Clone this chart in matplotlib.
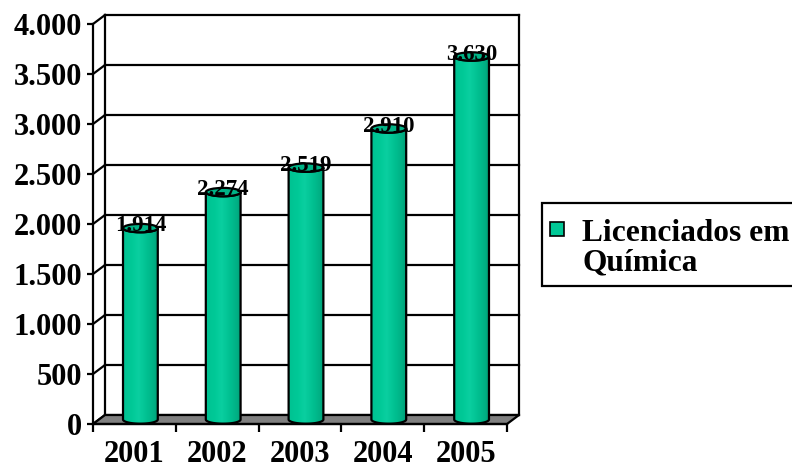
import numpy as np
import matplotlib
matplotlib.use("Agg")
import matplotlib.pyplot as plt
from matplotlib.patches import Polygon, Ellipse, PathPatch, Rectangle
from matplotlib.path import Path
from matplotlib.colors import LinearSegmentedColormap
from matplotlib.ticker import FuncFormatter, FixedLocator

# ---- data ----
years = ["2001", "2002", "2003", "2004", "2005"]
graduates = [1914, 2274, 2519, 2910, 3630]
series_name = "Licenciados em\nQuímica"
y_ticks = [0, 500, 1000, 1500, 2000, 2500, 3000, 3500, 4000]

# ---- style ----
FONT = "Liberation Serif"
plt.rcParams["font.family"] = [FONT, "DejaVu Serif"]
plt.rcParams["font.weight"] = "bold"
BAR_MAIN = "#00C896"
BAR_TOP = "#00B386"
FLOOR = "#808080"
LW = 1.6


def thousands(v, _pos=None):
    return f"{int(round(v)):,}".replace(",", ".")


W_PX, H_PX = 792, 470
fig = plt.figure(figsize=(W_PX / 100, H_PX / 100), dpi=100)

# front plot frame in pixels and the 3-D depth shift of the back wall
front_left, front_right = 93, 507
zero_px, top_px = 424, 24
depth_px_x, depth_px_y = 12, 9

n = len(years)
ymax = y_ticks[-1]
px_per_cat = (front_right - front_left) / n
px_per_unit = (zero_px - top_px) / ymax
ddx = depth_px_x / px_per_cat
ddy = depth_px_y / px_per_unit

ax_left = front_left
ax_right = front_right + depth_px_x
ax_bottom = zero_px
ax_top = top_px - depth_px_y
ax = fig.add_axes([ax_left / W_PX, (H_PX - ax_bottom) / H_PX,
                   (ax_right - ax_left) / W_PX, (ax_bottom - ax_top) / H_PX])
ax.set_facecolor("none")
x0, x1 = -0.5, n - 0.5

# back wall, left wall and gridlines
for v in y_ticks:
    ax.plot([x0 + ddx, x1 + ddx], [v + ddy, v + ddy], color="black", lw=LW,
            zorder=1, clip_on=False, solid_capstyle="projecting")
    ax.plot([x0, x0 + ddx], [v, v + ddy], color="black", lw=LW, zorder=1,
            clip_on=False)
ax.plot([x0 + ddx, x0 + ddx], [ddy, ymax + ddy], color="black", lw=LW,
        zorder=1, clip_on=False)
ax.plot([x1 + ddx, x1 + ddx], [ddy, ymax + ddy], color="black", lw=LW,
        zorder=1, clip_on=False)

# floor
floor = Polygon([(x0, 0), (x1, 0), (x1 + ddx, ddy), (x0 + ddx, ddy)],
                closed=True, facecolor=FLOOR, edgecolor="black", lw=LW,
                zorder=2, clip_on=False)
ax.add_patch(floor)

# cylinders
cmap = LinearSegmentedColormap.from_list(
    "cyl", [(0.0, "#00C292"), (0.25, "#00C997"), (0.45, "#0ACFA0"),
            (0.7, "#00BF90"), (0.9, "#00AE83"), (1.0, "#009C74")])
grad = np.linspace(0, 1, 256).reshape(1, -1)
half_w = 0.21
ell_h = 42  # half height of the cap ellipse, in value units
t = np.linspace(0, np.pi, 60)
for i, v in enumerate(graduates):
    cx = i + ddx / 2
    yb = ddy / 2
    yt = v + ddy / 2
    bx = cx - half_w * np.cos(t)
    by = yb - ell_h * np.sin(t)
    tx = cx + half_w * np.cos(t)
    ty = yt - ell_h * np.sin(t)
    verts = np.concatenate([np.column_stack([bx, by]),
                            np.column_stack([tx, ty]),
                            [[bx[0], by[0]]]])
    codes = [Path.MOVETO] + [Path.LINETO] * (len(verts) - 2) + [Path.CLOSEPOLY]
    body_path = Path(verts, codes)
    clip = PathPatch(body_path, facecolor="none", edgecolor="none",
                     transform=ax.transData)
    ax.add_patch(clip)
    im = ax.imshow(grad, cmap=cmap, aspect="auto", interpolation="bilinear",
                   extent=(cx - half_w, cx + half_w, yb - ell_h, yt + ell_h),
                   origin="lower", zorder=3)
    im.set_clip_path(clip)
    ax.add_patch(PathPatch(body_path, facecolor="none", edgecolor="black",
                           lw=LW, zorder=4))
    ax.add_patch(Ellipse((cx, yt), 2 * half_w, 2 * ell_h, facecolor=BAR_TOP,
                         edgecolor="black", lw=LW, zorder=4))
    ax.text(cx, v + 15, thousands(v), ha="center", va="baseline",
            fontsize=16.5, fontweight="bold", fontfamily=FONT, zorder=6)

ax.set_xlim(x0, x1 + ddx)
ax.set_ylim(0, ymax + ddy)

# axes: front-left value axis and front category axis
for side in ("top", "right"):
    ax.spines[side].set_visible(False)
ax.spines["left"].set_bounds(0, ymax)
ax.spines["bottom"].set_bounds(x0, x1)
for side in ("left", "bottom"):
    ax.spines[side].set_linewidth(LW)
    ax.spines[side].set_zorder(5)

ax.yaxis.set_major_locator(FixedLocator(y_ticks))
ax.yaxis.set_major_formatter(FuncFormatter(thousands))
ax.tick_params(axis="y", direction="out", length=4.5, width=LW, pad=3.5,
               labelsize=22)
ax.set_xticks(range(n))
ax.set_xticklabels(years)
ax.set_xticks(np.arange(n + 1) - 0.5, minor=True)
ax.tick_params(axis="x", which="major", length=0, pad=11.5, labelsize=22)
ax.tick_params(axis="x", which="minor", direction="out", length=5.8, width=LW)
for lab in ax.get_xticklabels() + ax.get_yticklabels():
    lab.set_fontweight("bold")
    lab.set_fontfamily(FONT)

# legend box
box_left, box_top, box_bottom = 542, 203, 286
fig.patches.append(Rectangle((box_left / W_PX, 1 - box_bottom / H_PX),
                             (W_PX + 20 - box_left) / W_PX,
                             (box_bottom - box_top) / H_PX,
                             transform=fig.transFigure, facecolor="white",
                             edgecolor="black", lw=LW, clip_on=False))
fig.patches.append(Rectangle((550 / W_PX, 1 - 236 / H_PX), 14 / W_PX,
                             14 / H_PX, transform=fig.transFigure,
                             facecolor=BAR_MAIN, edgecolor="black", lw=1.2))
line1, line2 = series_name.split("\n")
fig.text(582 / W_PX, 1 - 241 / H_PX, line1, fontsize=22.6, fontweight="bold",
         fontfamily=FONT, va="baseline", ha="left")
fig.text(582 / W_PX, 1 - 270 / H_PX, line2, fontsize=22.6, fontweight="bold",
         fontfamily=FONT, va="baseline", ha="left")

fig.savefig("out.png", dpi=100)
